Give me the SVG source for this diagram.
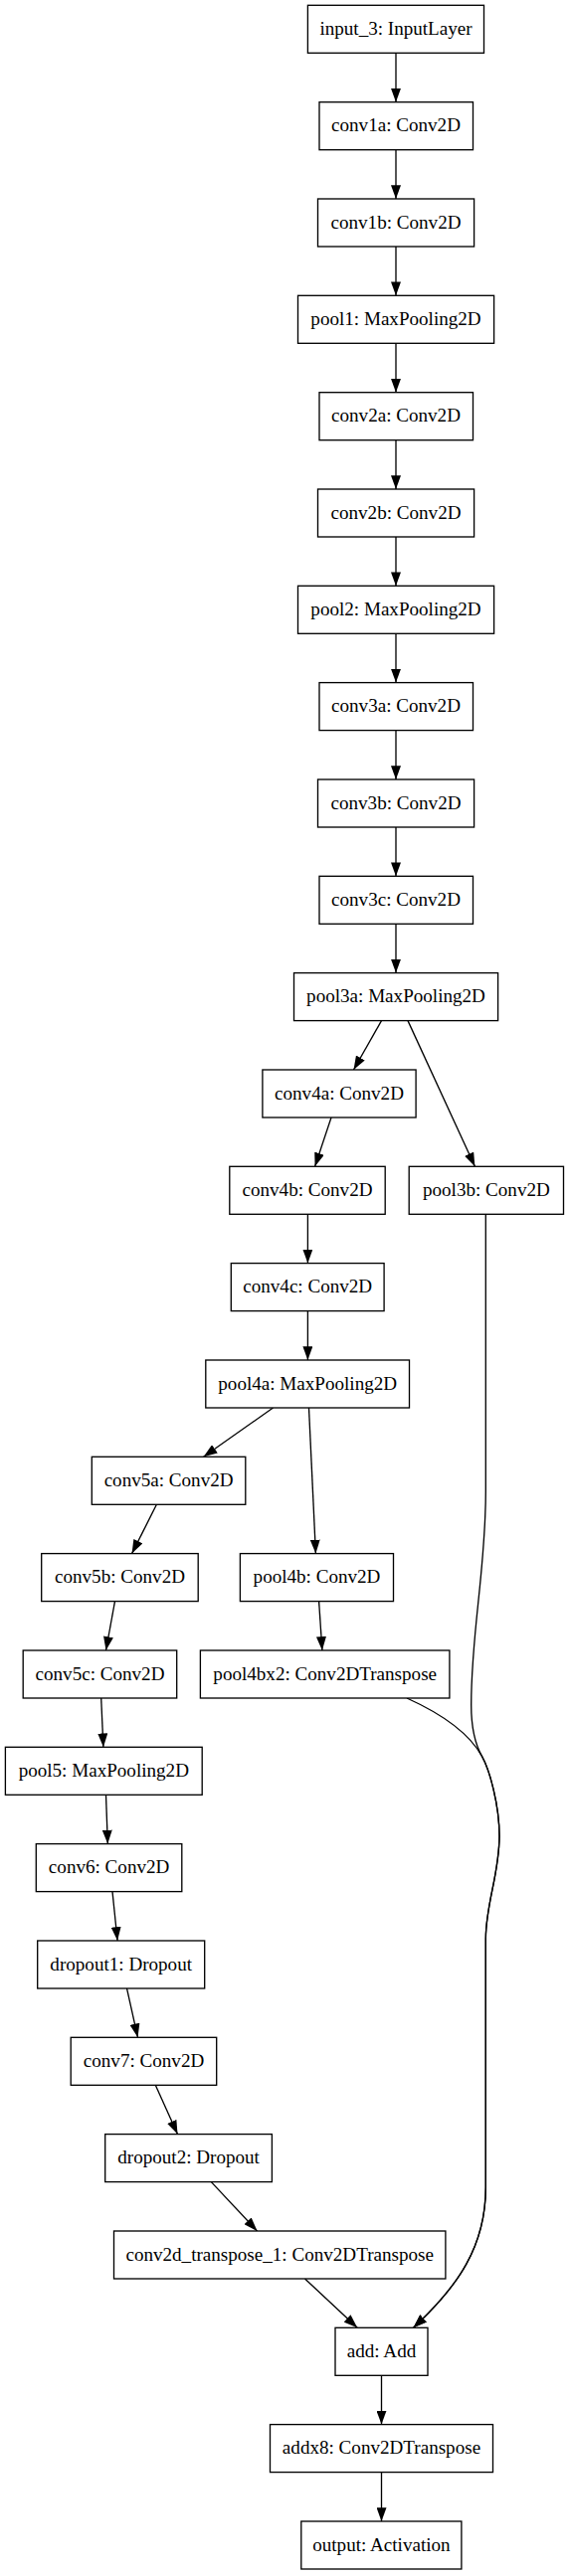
<svg xmlns="http://www.w3.org/2000/svg" width="572" height="2591" viewBox="0 0 572 2591">
<style>
.n rect{fill:#fff;stroke:#000;stroke-width:1.33}
.n text{font-family:"Liberation Serif","Times New Roman",serif;font-size:19.1px;text-anchor:middle;fill:#000}
.e path{fill:none;stroke:#000;stroke-width:1.33;marker-end:url(#ah)}
</style>
<defs>
<marker id="ah" markerUnits="userSpaceOnUse" markerWidth="14" markerHeight="10" refX="13.3" refY="4.8" orient="auto" viewBox="0 0 13.3 9.6">
<path d="M0,0 L13.3,4.8 L0,9.6 z" fill="#000"/>
</marker>
</defs>
<rect width="572" height="2591" fill="#fff"/>
<g id="edges" class="e">
<path d="M398,53.3 L398,102.7"/>
<path d="M398,150.7 L398,200"/>
<path d="M398,248 L398,297.3"/>
<path d="M398,345.3 L398,394.7"/>
<path d="M398,442.7 L398,492"/>
<path d="M398,540 L398,589.3"/>
<path d="M398,637.3 L398,686.6"/>
<path d="M398,734.6 L398,784"/>
<path d="M398,832 L398,881.3"/>
<path d="M398,929.3 L398,978.6"/>
<path d="M383.5,1026.6 L355.5,1076"/>
<path d="M410,1026.6 L477.4,1173.3"/>
<path d="M333,1124 L316.6,1173.3"/>
<path d="M309.4,1221.3 L309.4,1270.6"/>
<path d="M309.4,1318.6 L309.4,1368"/>
<path d="M274.5,1416 L204.6,1465.3"/>
<path d="M310.5,1416 L317.4,1562.6"/>
<path d="M157.4,1513.3 L132.6,1562.6"/>
<path d="M115.5,1610.6 L106.5,1660"/>
<path d="M320.6,1610.6 L323.9,1660"/>
<path d="M101.7,1708 L103.9,1757.3"/>
<path d="M106.5,1805.3 L108.3,1854.6"/>
<path d="M113,1902.6 L118.1,1952"/>
<path d="M127.5,1999.9 L138.5,2049.3"/>
<path d="M156.3,2097.3 L178.5,2146.6"/>
<path d="M212.3,2194.6 L258.5,2244"/>
<path d="M306.5,2292 L359.2,2341.3"/>
<path d="M488.3,1221.3 L488.3,1500 C488.3,1580 473.7,1640 473.7,1715 C473.7,1740 478,1755 484.6,1766.7 C492,1780 502,1815 502,1846.7 C502,1885 488.3,1915 488.3,1950 L488.3,2200 C488.3,2260 460,2300 415.5,2341.3"/>
<path d="M409,1708 C440,1722 470,1740 484.6,1766.7 C492,1780 502,1815 502,1846.7 C502,1885 488.3,1915 488.3,1950 L488.3,2200 C488.3,2260 460,2300 415.5,2341.3"/>
<path d="M383.5,2389.3 L383.5,2438.6"/>
<path d="M383.5,2486.6 L383.5,2536"/>
</g>
<g id="input_3" class="n"><rect x="309.4" y="5.3" width="177.1" height="48"/><text x="398" y="35">input_3: InputLayer</text></g>
<g id="conv1a" class="n"><rect x="321" y="102.7" width="154.5" height="48"/><text x="398" y="132.4">conv1a: Conv2D</text></g>
<g id="conv1b" class="n"><rect x="319.5" y="200" width="157.1" height="48"/><text x="398" y="229.7">conv1b: Conv2D</text></g>
<g id="pool1" class="n"><rect x="299.5" y="297.3" width="197.1" height="48"/><text x="398" y="327">pool1: MaxPooling2D</text></g>
<g id="conv2a" class="n"><rect x="321" y="394.7" width="154.5" height="48"/><text x="398" y="424.4">conv2a: Conv2D</text></g>
<g id="conv2b" class="n"><rect x="319.5" y="492" width="157.1" height="48"/><text x="398" y="521.7">conv2b: Conv2D</text></g>
<g id="pool2" class="n"><rect x="299.5" y="589.3" width="197.1" height="48"/><text x="398" y="619">pool2: MaxPooling2D</text></g>
<g id="conv3a" class="n"><rect x="321" y="686.6" width="154.5" height="48"/><text x="398" y="716.3">conv3a: Conv2D</text></g>
<g id="conv3b" class="n"><rect x="319.5" y="784" width="157.1" height="48"/><text x="398" y="813.7">conv3b: Conv2D</text></g>
<g id="conv3c" class="n"><rect x="321" y="881.3" width="154.5" height="48"/><text x="398" y="911">conv3c: Conv2D</text></g>
<g id="pool3a" class="n"><rect x="295.5" y="978.6" width="205.1" height="48"/><text x="398" y="1008.3">pool3a: MaxPooling2D</text></g>
<g id="conv4a" class="n"><rect x="263.9" y="1076" width="154.2" height="48"/><text x="341" y="1105.7">conv4a: Conv2D</text></g>
<g id="conv4b" class="n"><rect x="230.8" y="1173.3" width="156.4" height="48"/><text x="309" y="1203">conv4b: Conv2D</text></g>
<g id="pool3b" class="n"><rect x="411.2" y="1173.3" width="155.3" height="48"/><text x="488.9" y="1203">pool3b: Conv2D</text></g>
<g id="conv4c" class="n"><rect x="232.3" y="1270.6" width="153.8" height="48"/><text x="309.2" y="1300.3">conv4c: Conv2D</text></g>
<g id="pool4a" class="n"><rect x="206.8" y="1368" width="204.7" height="48"/><text x="309.2" y="1397.7">pool4a: MaxPooling2D</text></g>
<g id="conv5a" class="n"><rect x="92.3" y="1465.3" width="154.5" height="48"/><text x="169.6" y="1495">conv5a: Conv2D</text></g>
<g id="conv5b" class="n"><rect x="41.7" y="1562.6" width="157.5" height="48"/><text x="120.5" y="1592.3">conv5b: Conv2D</text></g>
<g id="pool4b" class="n"><rect x="241.4" y="1562.6" width="154.1" height="48"/><text x="318.5" y="1592.3">pool4b: Conv2D</text></g>
<g id="conv5c" class="n"><rect x="23.2" y="1660" width="154.5" height="48"/><text x="100.5" y="1689.7">conv5c: Conv2D</text></g>
<g id="pool4bx2" class="n"><rect x="201.4" y="1660" width="250.5" height="48"/><text x="326.7" y="1689.7">pool4bx2: Conv2DTranspose</text></g>
<g id="pool5" class="n"><rect x="5.4" y="1757.3" width="197.8" height="48"/><text x="104.3" y="1787">pool5: MaxPooling2D</text></g>
<g id="conv6" class="n"><rect x="36.3" y="1854.6" width="146.5" height="48"/><text x="109.6" y="1884.3">conv6: Conv2D</text></g>
<g id="dropout1" class="n"><rect x="37.7" y="1952" width="168" height="48"/><text x="121.7" y="1981.7">dropout1: Dropout</text></g>
<g id="conv7" class="n"><rect x="71.2" y="2049.3" width="146.5" height="48"/><text x="144.5" y="2079">conv7: Conv2D</text></g>
<g id="dropout2" class="n"><rect x="105.7" y="2146.6" width="167.7" height="48"/><text x="189.6" y="2176.3">dropout2: Dropout</text></g>
<g id="conv2d_transpose_1" class="n"><rect x="114.5" y="2244" width="333.4" height="48"/><text x="281.2" y="2273.7">conv2d_transpose_1: Conv2DTranspose</text></g>
<g id="add" class="n"><rect x="337" y="2341.3" width="93" height="48"/><text x="383.5" y="2371">add: Add</text></g>
<g id="addx8" class="n"><rect x="271.5" y="2438.6" width="224" height="48"/><text x="383.5" y="2468.3">addx8: Conv2DTranspose</text></g>
<g id="output" class="n"><rect x="302.8" y="2536" width="161.1" height="48"/><text x="383.4" y="2565.7">output: Activation</text></g>
</svg>
